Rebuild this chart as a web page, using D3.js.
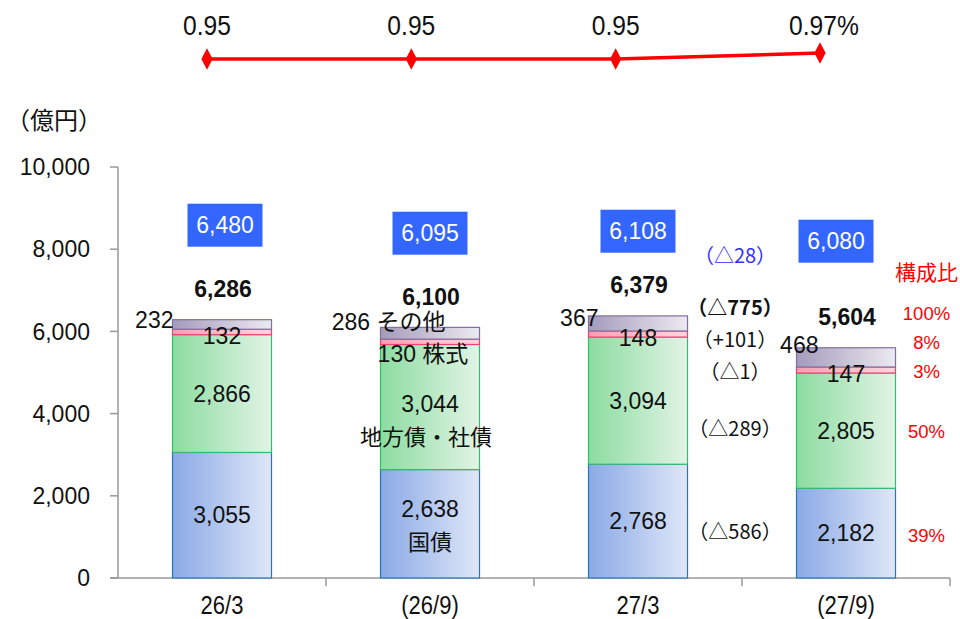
<!DOCTYPE html>
<html>
<head>
<meta charset="utf-8">
<script src="https://cdn.jsdelivr.net/npm/d3@7"></script>
<style>
  body { margin: 0; background: #fff; }
  text { font-family: "Liberation Sans", "Noto Sans CJK JP", sans-serif; }
</style>
</head>
<body>
<div id="viz"></div>
<script>
// ---- data ----
const periods = ["26/3", "(26/9)", "27/3", "(27/9)"];
const seriesNames = ["国債", "地方債・社債", "株式", "その他"];
const jgb = [3055, 2638, 2768, 2182];
const localCorp = [2866, 3044, 3094, 2805];
const stocks = [132, 130, 148, 147];
const others = [232, 286, 367, 468];
const totals = ["6,286", "6,100", "6,379", "5,604"];
const boxValues = [6480, 6095, 6108, 6080];
const ratioValues = [0.95, 0.95, 0.95, 0.97];
const changeLabels = ["（△28）", "（△775）", "（+101）", "（△1）", "（△289）", "（△586）"];
const shareLabels = ["100%", "8%", "3%", "50%", "39%"];
const yTicks = [0, 2000, 4000, 6000, 8000, 10000];

// layout nudges for hand-placed labels (px)
const otherDx = [1, 65, 10, 22], otherDy = [0, -6, 2, -3];
const boxLift = [24, 16, 18, 8], boxDx = [3, 0, 0, -10];

const W = 960, H = 619;
const cjk = "'Noto Sans CJK JP', sans-serif";
const svg = d3.select("#viz").append("svg").attr("width", W).attr("height", H);

const x = d3.scaleBand().domain(periods).range([118, 950]).paddingInner(0.524).paddingOuter(0.262);
const y = d3.scaleLinear().domain([0, 10000]).range([578, 167]);
const fmt = d3.format(",");

// gradients
const defs = svg.append("defs");
const grads = [
  { id: "gJgb", from: "#8aa9e6", to: "#dfe7f7", stroke: "#2e75b6" },
  { id: "gLoc", from: "#8cdca0", to: "#e2f4e6", stroke: "#2fbf6a" },
  { id: "gStk", from: "#ff9fb4", to: "#ffd6de", stroke: "#f0407a" },
  { id: "gOth", from: "#a39bbb", to: "#eceaf1", stroke: "#8070a0" }
];
grads.forEach(g => {
  const lg = defs.append("linearGradient").attr("id", g.id).attr("x1", "0").attr("x2", "1").attr("y1", "0").attr("y2", "0");
  lg.append("stop").attr("offset", "0%").attr("stop-color", g.from);
  lg.append("stop").attr("offset", "100%").attr("stop-color", g.to);
});

// stacked data
const rows = periods.map((p, i) => ({ period: p, jgb: jgb[i], loc: localCorp[i], stk: stocks[i], oth: others[i] }));
const keys = ["jgb", "loc", "stk", "oth"];
const stacked = d3.stack().keys(keys)(rows);

// axes
const axisColor = "#999";
svg.append("line").attr("x1", 118).attr("x2", 118).attr("y1", y(10000)).attr("y2", y(0)).attr("stroke", axisColor).attr("stroke-width", 1.5);
svg.append("line").attr("x1", 110).attr("x2", 950).attr("y1", y(0)).attr("y2", y(0)).attr("stroke", axisColor).attr("stroke-width", 1.5);
svg.selectAll(".ytick").data(yTicks).enter().append("line")
  .attr("x1", 110).attr("x2", 118).attr("y1", d => y(d)).attr("y2", d => y(d))
  .attr("stroke", axisColor).attr("stroke-width", 1.5);
svg.selectAll(".ylab").data(yTicks).enter().append("text")
  .attr("x", 90).attr("y", d => y(d)).attr("dy", "0.36em")
  .attr("text-anchor", "end").attr("font-size", 23).attr("fill", "#111")
  .text(d => fmt(d));
svg.selectAll(".xtick").data(periods).enter().append("line")
  .attr("x1", d => x(d) + x.bandwidth() + x.step() * 0.262).attr("x2", d => x(d) + x.bandwidth() + x.step() * 0.262)
  .attr("y1", y(0)).attr("y2", y(0) + 8).attr("stroke", axisColor).attr("stroke-width", 1.5);
svg.selectAll(".xlab").data(periods).enter().append("text")
  .attr("transform", d => `translate(${x(d) + x.bandwidth() / 2},605) scale(0.88,1)`)
  .attr("dy", "0.36em")
  .attr("text-anchor", "middle").attr("font-size", 25).attr("fill", "#111")
  .text(d => d);
svg.append("text").attr("x", 6).attr("y", 120).attr("dy", "0.36em")
  .attr("font-size", 24).attr("fill", "#111").style("font-family", cjk)
  .text("（億円）");

// bars
stacked.forEach((layer, k) => {
  svg.append("g").selectAll("rect").data(layer).enter().append("rect")
    .attr("x", d => x(d.data.period))
    .attr("width", x.bandwidth())
    .attr("y", d => y(d[1]))
    .attr("height", d => y(d[0]) - y(d[1]))
    .attr("fill", `url(#${grads[k].id})`)
    .attr("stroke", grads[k].stroke)
    .attr("stroke-width", 1.2);
});

const cx = i => x(periods[i]) + x.bandwidth() / 2;
const segMid = (k, i) => (y(stacked[k][i][0]) + y(stacked[k][i][1])) / 2;
const topY = i => y(stacked[3][i][1]);

function label(xp, yp, txt, opts = {}) {
  return svg.append("text").attr("x", xp).attr("y", yp).attr("dy", "0.36em")
    .attr("text-anchor", opts.anchor || "middle")
    .attr("font-size", opts.size || 23)
    .attr("font-weight", opts.weight || "normal")
    .attr("fill", opts.color || "#111")
    .text(txt);
}

periods.forEach((p, i) => {
  const named = i === 1;
  // 国債
  if (named) {
    label(cx(i), segMid(0, i) - 15, fmt(jgb[i]));
    label(cx(i), segMid(0, i) + 18, seriesNames[0]).attr("font-size", 22);
  } else label(cx(i), segMid(0, i), fmt(jgb[i]));
  // 地方債・社債
  if (named) {
    label(cx(i), segMid(1, i) - 3, fmt(localCorp[i]));
    label(cx(i) - 4, segMid(1, i) + 30, seriesNames[1]).attr("font-size", 22);
  } else label(cx(i), segMid(1, i), fmt(localCorp[i]));
  // 株式
  label(cx(i) - (named ? 7 : 0), segMid(2, i) + (named ? 12 : 4), named ? `${stocks[i]} ${seriesNames[2]}` : fmt(stocks[i]));
  // その他
  label(x(p) + otherDx[i], topY(i) + otherDy[i], named ? `${others[i]} ${seriesNames[3]}` : fmt(others[i]), { anchor: "end" });
  // totals
  label(cx(i) + 1, topY(i) - 31, totals[i], { weight: "bold" });
  // blue boxes
  const bcx = cx(i) + boxDx[i], bcy = y(8000) - boxLift[i];
  svg.append("rect").attr("x", bcx - 37.5).attr("y", bcy - 21.5).attr("width", 75).attr("height", 43).attr("fill", "#3366ff");
  label(bcx, bcy, fmt(boxValues[i]), { color: "#fff" });
});

// change annotations (27/3 -> 27/9)
const last = 3;
const changeX = (x(periods[2]) + x.bandwidth() + x(periods[3])) / 2 - 7;
const changeY = [
  y(8000) - boxLift[last] + 15,
  topY(last) - 40,
  topY(last) - 8,
  segMid(2, last) + 2,
  segMid(1, last) - 2,
  segMid(0, last) - 1
];
changeLabels.forEach((t, j) => {
  label(changeX, changeY[j], t, { size: 20, color: j === 0 ? "#2f2fff" : "#111", weight: j === 1 ? "bold" : "normal" })
    .style("font-family", cjk);
});

// share column
const shareX = x(periods[3]) + x.bandwidth() + 31;
label(shareX, topY(last) - 75, "構成比", { size: 21, color: "#ff0000" }).style("font-family", cjk);
const shareY = [topY(last) - 34, topY(last) - 5, segMid(2, last) + 1, segMid(1, last) + 1, segMid(0, last) + 2];
shareLabels.forEach((t, j) => label(shareX, shareY[j], t, { size: 18.5, color: "#ff0000" }));

// ratio line on top
const lx = d3.scalePoint().domain(periods).range([207, 820]);
const ly = d3.scaleLinear().domain([0.9, 1.0]).range([74, 44]);
svg.append("path")
  .datum(ratioValues)
  .attr("d", d3.line().x((d, i) => lx(periods[i])).y(d => ly(d)))
  .attr("fill", "none").attr("stroke", "#ff0000").attr("stroke-width", 3.5);
svg.selectAll(".mk").data(ratioValues).enter().append("path")
  .attr("d", d3.symbol().type(d3.symbolDiamond).size(110))
  .attr("transform", (d, i) => `translate(${lx(periods[i])},${ly(d)}) scale(1,1.1)`)
  .attr("fill", "#ff0000");
svg.selectAll(".rl").data(ratioValues).enter().append("text")
  .attr("transform", (d, i) => `translate(${lx(periods[i]) + (i === 3 ? 4 : 0)},25) scale(0.88,1)`)
  .attr("dy", "0.36em")
  .attr("text-anchor", "middle").attr("font-size", 28).attr("fill", "#111")
  .text((d, i) => d.toFixed(2) + (i === 3 ? "%" : ""));
</script>
</body>
</html>
